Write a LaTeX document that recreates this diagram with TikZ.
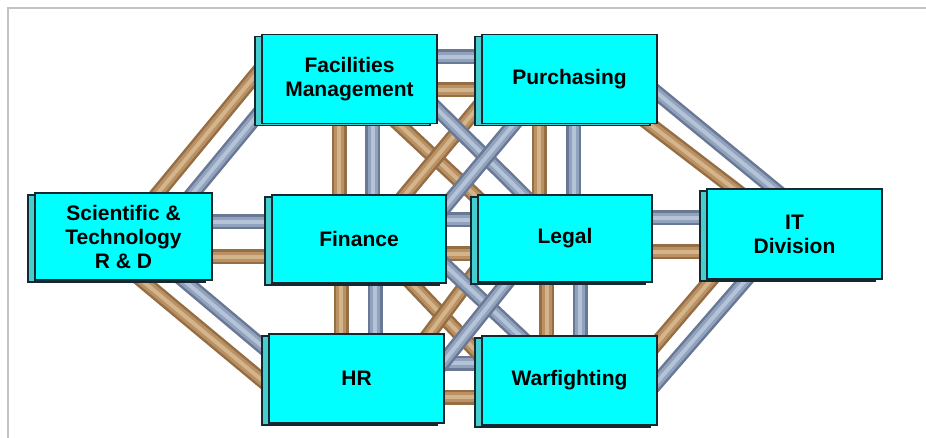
\documentclass[tikz,border=0pt]{standalone}
\usepackage{fontspec}
\setmainfont{Liberation Sans}
\usetikzlibrary{shadows}
\pgfdeclarelayer{bg}
\pgfsetlayers{bg,main}
\definecolor{tanD}{RGB}{150,110,68}
\definecolor{tanM}{RGB}{185,145,100}
\definecolor{tanL}{RGB}{212,180,138}
\definecolor{bluD}{RGB}{105,120,148}
\definecolor{bluM}{RGB}{145,163,188}
\definecolor{bluL}{RGB}{180,195,215}
\definecolor{boxcyan}{RGB}{0,255,255}
\definecolor{backcyan}{RGB}{70,205,205}
\definecolor{boxline}{RGB}{20,40,50}
\definecolor{framegray}{RGB}{195,195,195}
\tikzset{
  dept/.style={draw=boxline, line width=1.2pt, fill=boxcyan,
    minimum width=175pt, minimum height=89pt, inner sep=0pt, align=center,
    font=\fontsize{21}{24}\selectfont\bfseries, text=black,
    copy shadow={shadow xshift=-7pt, shadow yshift=-2pt, fill=backcyan, draw=boxline, line width=1.2pt}},
  tanbar/.style={line width=15pt, draw=tanD,
    postaction={draw=tanM, line width=10pt},
    postaction={draw=tanL, line width=4pt}},
  blubar/.style={line width=15pt, draw=bluD,
    postaction={draw=bluM, line width=10pt},
    postaction={draw=bluL, line width=4pt}},
  frameline/.style={draw=framegray, line width=2pt}
}
\begin{document}
\begin{tikzpicture}[x=1pt,y=-1pt]
\useasboundingbox (0,0) rectangle (926,438);
\draw[frameline] (8,438) -- (8,8) -- (926,8);

\node[dept] (fac) at (349.5,79) {Facilities\\Management};
\node[dept] (pur) at (569.5,79) {Purchasing};
\node[dept, minimum width=177pt, minimum height=87pt] (sci) at (123.5,236.5) {Scientific \&\\Technology\\R \& D};
\node[dept, minimum width=174pt, minimum height=88pt] (fin) at (359,239) {Finance};
\node[dept, minimum width=174pt, minimum height=87pt] (leg) at (565,238.5) {Legal};
\node[dept, minimum height=90pt] (it) at (794.5,234) {IT\\Division};
\node[dept] (hr) at (356.5,378.5) {HR};
\node[dept] (war) at (569.5,380.5) {Warfighting};

\begin{pgfonlayer}{bg}
% vertical pairs
\draw[tanbar] ([shift={(-10.5,0)}]fac.center) -- ([shift={(-20,0)}]fin.center);
\draw[blubar] ([shift={(23,0)}]fac.center) -- ([shift={(13.5,0)}]fin.center);
\draw[tanbar] ([shift={(-30.5,0)}]pur.center) -- ([shift={(-26,0)}]leg.center);
\draw[blubar] ([shift={(4,0)}]pur.center) -- ([shift={(8.5,0)}]leg.center);
\draw[tanbar] ([shift={(-18,0)}]fin.center) -- ([shift={(-15.5,0)}]hr.center);
\draw[blubar] ([shift={(16,0)}]fin.center) -- ([shift={(18.5,0)}]hr.center);
\draw[tanbar] ([shift={(-18.5,0)}]leg.center) -- ([shift={(-23,0)}]war.center);
\draw[blubar] ([shift={(15,0)}]leg.center) -- ([shift={(10.5,0)}]war.center);
% horizontal pairs
\draw[blubar] ([shift={(0,-22)}]fac.center) -- ([shift={(0,-22)}]pur.center);
\draw[tanbar] ([shift={(0,11)}]fac.center) -- ([shift={(0,11)}]pur.center);
\draw[blubar] ([shift={(0,-14.5)}]sci.center) -- ([shift={(0,-17)}]fin.center);
\draw[tanbar] ([shift={(0,20.5)}]sci.center) -- ([shift={(0,18)}]fin.center);
\draw[blubar] ([shift={(0,-19)}]fin.center) -- ([shift={(0,-18.5)}]leg.center);
\draw[tanbar] ([shift={(0,15)}]fin.center) -- ([shift={(0,15.5)}]leg.center);
\draw[blubar] ([shift={(0,-20.5)}]leg.center) -- ([shift={(0,-16)}]it.center);
\draw[tanbar] ([shift={(0,13.5)}]leg.center) -- ([shift={(0,18)}]it.center);
\draw[blubar] ([shift={(0,-15.5)}]hr.center) -- ([shift={(0,-17.5)}]war.center);
\draw[tanbar] ([shift={(0,18.5)}]hr.center) -- ([shift={(0,16.5)}]war.center);
% outer diagonals
\draw[tanbar] ([shift={(20.5,-26.5)}]sci.center) -- ([shift={(-84.5,-15.5)}]fac.center);
\draw[blubar] ([shift={(55.5,-26.5)}]sci.center) -- ([shift={(-79.5,21)}]fac.center);
\draw[tanbar] ([shift={(6.5,34)}]sci.center) -- ([shift={(-81.5,12.5)}]hr.center);
\draw[blubar] ([shift={(51.5,36.5)}]sci.center) -- ([shift={(-81.5,-21.5)}]hr.center);
\draw[tanbar] ([shift={(65.5,34)}]pur.center) -- ([shift={(-44.5,-33)}]it.center);
\draw[blubar] ([shift={(75.5,4)}]pur.center) -- ([shift={(-4.5,-32)}]it.center);
\draw[tanbar] ([shift={(75.5,-23.5)}]war.center) -- ([shift={(-72.5,33)}]it.center);
\draw[blubar] ([shift={(75.5,15.5)}]war.center) -- ([shift={(-37.5,33)}]it.center);
% inner crossings
\draw[tanbar] ([shift={(23.5,21)}]fac.center) -- ([shift={(-69,-23.5)}]leg.center);
\draw[tanbar] ([shift={(-85.5,21)}]pur.center) -- ([shift={(29,-24)}]fin.center);
\draw[blubar] ([shift={(78.5,21)}]fac.center) -- ([shift={(-21,-23.5)}]leg.center);
\draw[blubar] ([shift={(-35.5,21)}]pur.center) -- ([shift={(66.5,-9)}]fin.center);
\draw[tanbar] ([shift={(35,26)}]fin.center) -- ([shift={(-75.5,-10.5)}]war.center);
\draw[tanbar] ([shift={(-77,16.5)}]leg.center) -- ([shift={(60.5,-28.5)}]hr.center);
\draw[blubar] ([shift={(64.6,6)}]fin.center) -- ([shift={(-34.5,-30.5)}]war.center);
\draw[blubar] ([shift={(-40,21.5)}]leg.center) -- ([shift={(80.5,-8.5)}]hr.center);
\end{pgfonlayer}
\end{tikzpicture}
\end{document}
